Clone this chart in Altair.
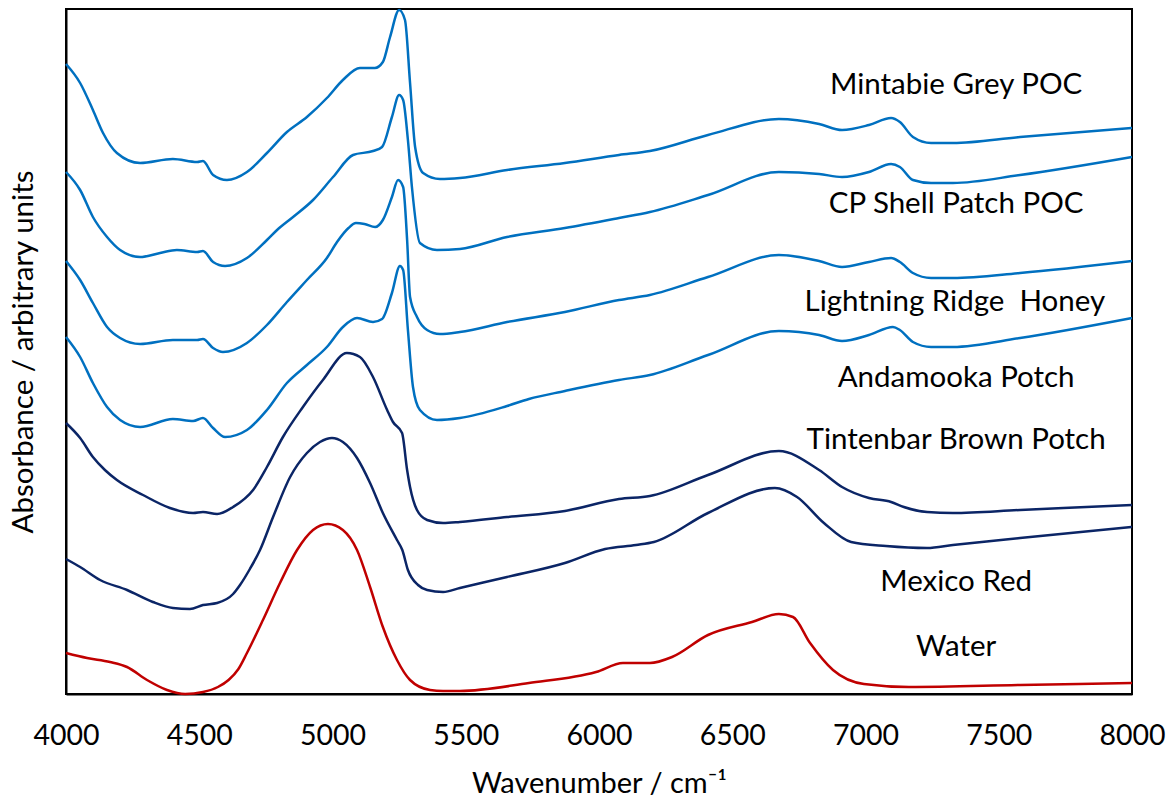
import altair as alt
import pandas as pd

# ---- data (wavenumber / cm-1, absorbance in arbitrary units) ----
mintabie_wn = [4000, 4053, 4101, 4139, 4191, 4278, 4401, 4492, 4514, 4552, 4604, 4679, 4754, 4829, 4904, 4979,
               5039, 5103, 5159, 5189, 5216, 5250, 5272, 5291, 5310, 5340, 5403, 5478, 5655, 5872, 6075, 6191,
               6409, 6675, 6826, 6912, 7013, 7096, 7129, 7178, 7246, 7328, 7580, 8000]
mintabie_v = [630, 611, 584, 561, 541, 531, 535, 532, 533, 519, 514, 522, 541, 562, 577, 596,
              614, 626, 626, 632, 657, 684, 674, 611, 547, 521, 515, 516, 524, 531, 539, 543,
              559, 575, 570, 564, 569, 576, 572, 557, 551, 551, 557, 566]

cpshell_wn = [4000, 4053, 4101, 4154, 4203, 4278, 4353, 4416, 4492, 4514, 4552, 4597, 4679, 4754, 4792, 4852,
              4927, 5002, 5077, 5152, 5186, 5223, 5250, 5265, 5283, 5298, 5328, 5392, 5478, 5655, 5872, 6075,
              6191, 6409, 6675, 6826, 6912, 7013, 7096, 7129, 7178, 7246, 7328, 7580, 8000]
cpshell_v = [522, 504, 477, 457, 444, 437, 441, 444, 442, 443, 432, 428, 436, 454, 464, 477,
             494, 517, 539, 543, 547, 577, 599, 594, 554, 507, 451, 444, 445, 457, 466, 476,
             482, 499, 522, 520, 517, 522, 530, 527, 514, 511, 511, 519, 537]

honey_wn = [4000, 4053, 4101, 4154, 4203, 4278, 4401, 4492, 4514, 4552, 4589, 4679, 4754, 4829, 4904, 4979,
            5017, 5060, 5088, 5120, 5160, 5189, 5223, 5246, 5265, 5280, 5291, 5317, 5355, 5403, 5478, 5655,
            5872, 6075, 6191, 6409, 6675, 6826, 6912, 7013, 7096, 7129, 7178, 7246, 7328, 7580, 8000]
honey_v = [433, 414, 391, 367, 356, 350, 354, 354, 355, 346, 342, 351, 369, 392, 414, 436,
           452, 466, 471, 470, 467, 474, 497, 514, 507, 454, 397, 377, 364, 360, 362, 372,
           382, 394, 399, 417, 439, 433, 427, 432, 436, 432, 421, 416, 416, 421, 433]

andamooka_wn = [4000, 4053, 4101, 4154, 4203, 4278, 4401, 4477, 4514, 4552, 4597, 4679, 4754, 4829, 4904, 4979,
                5039, 5092, 5152, 5186, 5223, 5253, 5265, 5283, 5302, 5328, 5392, 5478, 5655, 5737, 5872, 6075,
                6191, 6409, 6675, 6826, 6912, 7013, 7103, 7129, 7178, 7246, 7328, 7580, 8000]
andamooka_v = [357, 337, 311, 287, 274, 267, 275, 273, 276, 266, 257, 264, 284, 311, 329, 347,
               367, 376, 372, 375, 401, 428, 424, 364, 307, 284, 274, 276, 288, 295, 303, 314,
               319, 339, 363, 359, 353, 359, 367, 364, 352, 347, 347, 356, 376]

tintenbar_wn = [4000, 4053, 4101, 4146, 4191, 4289, 4390, 4477, 4514, 4567, 4627, 4702, 4754, 4814, 4889, 4964,
                5054, 5103, 5152, 5205, 5227, 5261, 5280, 5291, 5317, 5355, 5415, 5478, 5655, 5872, 6075, 6191,
                6409, 6675, 6826, 6912, 7013, 7096, 7144, 7231, 7328, 7580, 8000]
tintenbar_v = [271, 256, 237, 224, 214, 199, 186, 181, 182, 180, 187, 204, 227, 257, 287, 314,
               341, 337, 317, 284, 272, 261, 224, 207, 184, 174, 171, 172, 177, 183, 195, 198,
               219, 243, 224, 207, 196, 192, 187, 182, 181, 184, 189]

mexico_wn = [4000, 4053, 4128, 4229, 4326, 4401, 4465, 4514, 4567, 4627, 4653, 4690, 4728, 4777, 4841, 4904,
             4953, 4998, 5039, 5092, 5141, 5189, 5242, 5262, 5283, 5321, 5355, 5415, 5478, 5655, 5872, 6023,
             6139, 6206, 6409, 6660, 6743, 6844, 6946, 7077, 7231, 7328, 7580, 8000]
mexico_v = [135, 127, 114, 104, 92, 86, 85, 89, 91, 100, 109, 125, 144, 177, 217, 241,
            252, 256, 252, 236, 211, 181, 154, 144, 124, 109, 104, 102, 106, 117, 131, 145,
            149, 152, 181, 206, 197, 171, 152, 148, 146, 149, 156, 167]

water_wn = [4000, 4079, 4165, 4229, 4304, 4379, 4447, 4514, 4570, 4610, 4647, 4679, 4739, 4803, 4867, 4927,
            4983, 5039, 5092, 5141, 5189, 5242, 5291, 5366, 5415, 5478, 5737, 5989, 6090, 6191, 6274, 6409,
            6574, 6675, 6728, 6792, 6878, 6994, 7163, 7580, 8000]
water_v = [41, 36, 32, 27, 14, 4, 0, 2, 7, 14, 25, 41, 74, 111, 144, 164,
           170, 164, 144, 107, 67, 34, 14, 4, 3, 3, 11, 22, 31, 31, 37, 59,
           72, 80, 77, 51, 24, 10, 7, 9, 11]

series_names = ["Mintabie Grey POC", "CP Shell Patch POC", "Lightning Ridge \u00a0Honey", "Andamooka Potch",
                "Tintenbar Brown Potch", "Mexico Red", "Water"]
series_colors = ["#0070C0", "#0070C0", "#0070C0", "#0070C0", "#0B2566", "#0B2566", "#C00000"]
label_x = [7340, 7340, 7335, 7340, 7340, 7340, 7340]
label_y = [609, 490, 392, 316, 254, 112, 47]

all_wn = [mintabie_wn, cpshell_wn, honey_wn, andamooka_wn, tintenbar_wn, mexico_wn, water_wn]
all_v = [mintabie_v, cpshell_v, honey_v, andamooka_v, tintenbar_v, mexico_v, water_v]

rows = []
for name, wns, vs in zip(series_names, all_wn, all_v):
    for w, v in zip(wns, vs):
        rows.append({"series": name, "wn": w, "absorb": v})
df = pd.DataFrame(rows)
labels = pd.DataFrame({"series": series_names, "wn": label_x, "absorb": label_y})

FONT = "Lato"
W, H = 1066, 685

xscale = alt.Scale(domain=[4000, 8000], nice=False, zero=False)
yscale = alt.Scale(domain=[0, 685], nice=False, zero=False)

lines = alt.Chart(df).mark_line(strokeWidth=2.5, interpolate="monotone").encode(
    x=alt.X("wn:Q", scale=xscale,
            axis=alt.Axis(title="Wavenumber / cm\u207b\u00b9", values=[4000, 4500, 5000, 5500, 6000, 6500, 7000, 7500, 8000],
                          format="d", grid=False, ticks=False, labelFlush=False, labelPadding=27,
                          labelFontSize=28.5, labelFont=FONT, labelColor="black",
                          titleFontSize=29, titleFont=FONT, titleFontWeight="normal", titleColor="black",
                          titlePadding=20, domainColor="black", domainWidth=2)),
    y=alt.Y("absorb:Q", scale=yscale,
            axis=alt.Axis(title="Absorbance / arbitrary units", labels=False, ticks=False, grid=False,
                          titleFontSize=29.5, titleFont=FONT, titleFontWeight="normal", titleColor="black",
                          titlePadding=28, domainColor="black", domainWidth=2)),
    color=alt.Color("series:N", scale=alt.Scale(domain=series_names, range=series_colors), legend=None),
    detail="series:N",
)

text = alt.Chart(labels).mark_text(font=FONT, fontSize=29.5, align="center", baseline="middle", color="black").encode(
    x=alt.X("wn:Q", scale=xscale),
    y=alt.Y("absorb:Q", scale=yscale),
    text="series:N",
)

chart = alt.layer(lines, text).properties(
    width=W, height=H,
    autosize=alt.AutoSizeParams(type="none"),
    padding={"left": 66, "top": 9, "right": 43, "bottom": 108},
    background="white",
).configure_view(stroke="black", strokeWidth=2)

chart.save("out.html", embed_options={"renderer": "svg", "actions": False})
